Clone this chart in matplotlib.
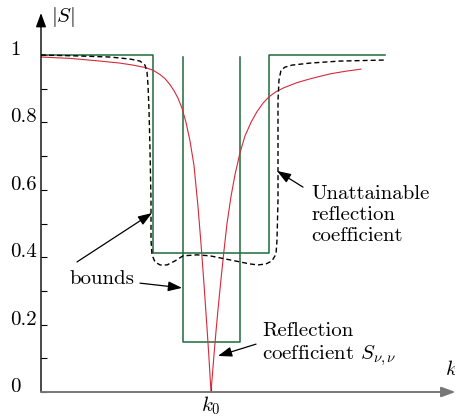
import numpy as np
import matplotlib
matplotlib.use('Agg')
import matplotlib.pyplot as plt

plt.rcParams['font.family'] = 'serif'
plt.rcParams['font.serif'] = ['cmr10', 'DejaVu Serif']
plt.rcParams['mathtext.fontset'] = 'cm'
plt.rcParams['axes.formatter.use_mathtext'] = True

# values: k (arbitrary units) and |S|
k0 = 1.70

red_k = [0, 0.29, 0.59, 0.79, 0.92, 1.04, 1.12, 1.19, 1.24, 1.29, 1.33, 1.37,
         1.41, 1.45, 1.49, 1.53, 1.57, 1.60, 1.63, 1.66, 1.68, 1.70,
         1.73, 1.75, 1.77, 1.80, 1.83, 1.86, 1.90, 1.94, 1.99, 2.04, 2.10,
         2.16, 2.22, 2.28, 2.35, 2.43, 2.56, 2.70, 2.89, 3.05, 3.20]
red_s = [0.994, 0.990, 0.982, 0.976, 0.970, 0.963, 0.955, 0.942, 0.930, 0.912,
         0.894, 0.872, 0.842, 0.800, 0.745, 0.672, 0.550, 0.440, 0.320, 0.190,
         0.100, 0.0,
         0.110, 0.180, 0.245, 0.335, 0.420, 0.500, 0.580, 0.645, 0.710, 0.760,
         0.800, 0.832, 0.857, 0.876, 0.891, 0.903, 0.918, 0.930, 0.944, 0.952,
         0.958]

dash_k = [0, 0.39, 0.69, 0.89, 0.99, 1.04, 1.06, 1.07, 1.08, 1.09, 1.10, 1.10,
          1.11, 1.14, 1.19, 1.26, 1.34, 1.42, 1.56, 1.69, 1.84, 1.99, 2.09, 2.17,
          2.25, 2.31, 2.35, 2.36, 2.37, 2.37, 2.37, 2.38, 2.40, 2.44, 2.51, 2.69,
          2.99, 3.43]
dash_s = [1.0, 0.997, 0.994, 0.988, 0.982, 0.970, 0.950, 0.911, 0.837, 0.718,
          0.570, 0.451, 0.407, 0.386, 0.377, 0.377, 0.389, 0.404, 0.407, 0.404,
          0.395, 0.386, 0.380, 0.377, 0.380, 0.389, 0.409, 0.451, 0.570, 0.718,
          0.866, 0.926, 0.955, 0.964, 0.970, 0.976, 0.982, 0.985]

# outer bound (unattainable region) and inner bound
outer_k = [0, 1.12, 1.12, 2.28, 2.28, 3.44]
outer_s = [1.0, 1.0, 0.412, 0.412, 1.0, 1.0]
inner_k = [1.42, 1.42, 1.99, 1.99]
inner_s = [0.994, 0.148, 0.148, 0.994]

ytick_vals = [0, 0.2, 0.4, 0.6, 0.8, 1.0]
ytick_labels = ['0', '0.2', '0.4', '0.6', '0.8', '1']
yminor_vals = [0.1, 0.3, 0.5, 0.7, 0.9]

green = '#1f6b3a'
red = '#d42a3a'
fs = 15

fig = plt.figure(figsize=(4.56, 4.18), dpi=100)
ax = fig.add_axes([41 / 456, 26 / 418, 414.5 / 456, 379 / 418])
ax.set_xlim(0, 4.145)
ax.set_ylim(0, 379 / 337)
for sp in ax.spines.values():
    sp.set_visible(False)

ax.plot(outer_k, outer_s, color=green, lw=1.1)
ax.plot(inner_k, inner_s, color=green, lw=1.1)
ax.plot(red_k, red_s, color=red, lw=0.8)
ax.plot(dash_k, dash_s, color='black', lw=1.0, dashes=(3.6, 2.2))

# axes with arrows
ax.annotate('', xy=(0, 1), xycoords='axes fraction', xytext=(0, 0),
            arrowprops=dict(arrowstyle='-|>,head_length=0.6,head_width=0.22',
                            color='black', lw=1.0, mutation_scale=14,
                            shrinkA=0, shrinkB=0))
ax.annotate('', xy=(1, 0), xycoords='axes fraction', xytext=(0, 0),
            arrowprops=dict(arrowstyle='-|>,head_length=0.6,head_width=0.22',
                            color='#777777', lw=1.4, mutation_scale=14,
                            shrinkA=0, shrinkB=0))

ax.set_yticks(ytick_vals)
ax.set_yticks(yminor_vals, minor=True)
ax.set_yticklabels(ytick_labels, fontsize=fs)
ax.tick_params(axis='y', which='both', direction='in', length=4, width=0.8,
               pad=22.3)
for lab in ax.get_yticklabels():
    lab.set_horizontalalignment('left')
    lab.set_verticalalignment('baseline')

ax.set_xticks([k0])
ax.set_xticklabels(['$k_0$'], fontsize=fs)
ax.tick_params(axis='x', direction='in', length=4, width=0.8, pad=2)

ax.text(0.10, 1.113, '$|S|$', fontsize=fs, ha='left', va='center')
ax.text(4.10, 0.068, '$k$', fontsize=fs, ha='center', va='center')

arrow = dict(arrowstyle='-|>,head_length=0.7,head_width=0.25', color='black',
             lw=0.9, mutation_scale=12, shrinkA=0, shrinkB=0)

ax.text(0.29, 0.335, 'bounds', fontsize=fs, ha='left', va='center')
ax.annotate('', xy=(1.11, 0.531), xytext=(0.36, 0.386), arrowprops=arrow)
ax.annotate('', xy=(1.41, 0.309), xytext=(0.99, 0.323), arrowprops=arrow)

ax.text(2.70, 0.525, 'Unattainable\nreflection\ncoefficient', fontsize=fs,
        ha='left', va='center', linespacing=1.2)
ax.annotate('', xy=(2.36, 0.656), xytext=(2.62, 0.608), arrowprops=arrow)

ax.text(2.21, 0.139, 'Reflection\ncoefficient $S_{\\nu,\\nu}$', fontsize=fs,
        ha='left', va='center', linespacing=1.2)
ax.annotate('', xy=(1.77, 0.107), xytext=(2.15, 0.142), arrowprops=arrow)

fig.savefig('out.png', dpi=100)
